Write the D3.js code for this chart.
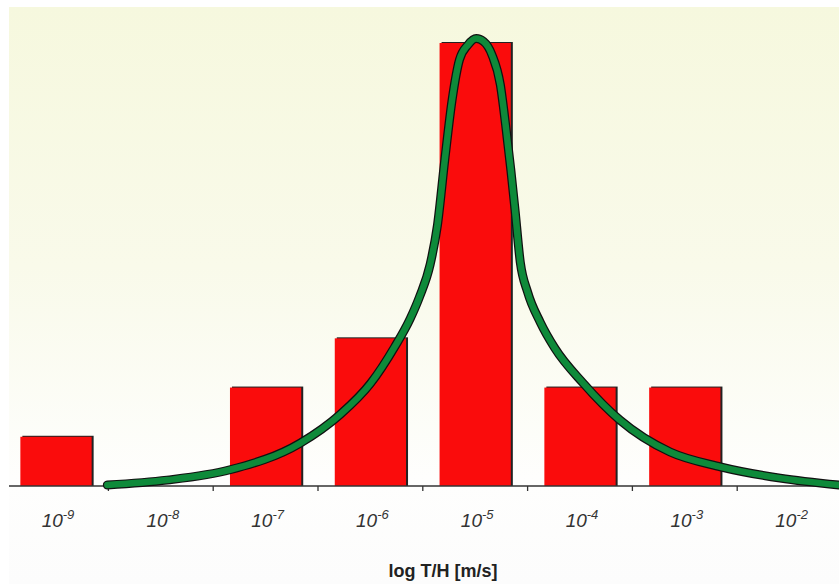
<!DOCTYPE html>
<html>
<head>
<script src="https://d3js.org/d3.v7.min.js"></script>
<style>
  body { margin: 0; background: #fff; }
</style>
</head>
<body>
<div id="chart"></div>
<script>
// categories = exponent of T/H (10^x m/s)
var exponents = ["-9", "-8", "-7", "-6", "-5", "-4", "-3", "-2"];
// bar heights (number of samples)
var counts = [1, 0, 2, 3, 9, 2, 2, 0];
// fitted curve: position on log axis and value
var fitLog = [-8.51, -7.94, -7.34, -6.67, -6.29, -6.00, -5.77, -5.62, -5.53, -5.43, -5.36, -5.29, -5.22, -5.15,
              -5.07, -4.99, -4.92, -4.84, -4.76, -4.71, -4.66, -4.62, -4.57, -4.50, -4.38, -4.24, -3.97,
              -3.62, -3.14, -2.66, -2.09, -1.53];
var fitVal = [0.02, 0.12, 0.33, 0.87, 1.45, 2.08, 2.82, 3.40, 3.85, 4.50, 5.30, 6.63, 7.85, 8.66,
              8.96, 9.09, 9.03, 8.76, 8.15, 7.34, 6.42, 5.61, 4.55, 3.94, 3.33, 2.80, 2.09,
              1.34, 0.69, 0.39, 0.16, 0.02];

var W = 839, H = 584, axisY = 486;

var svg = d3.select("#chart").append("svg")
    .attr("width", W).attr("height", H)
    .style("display", "block");

// background gradient panel
var grad = svg.append("defs").append("linearGradient")
    .attr("id", "bg").attr("x1", 0).attr("y1", 0).attr("x2", 0).attr("y2", 1);
grad.append("stop").attr("offset", "0%").attr("stop-color", "#f6f8de");
grad.append("stop").attr("offset", "45%").attr("stop-color", "#f9faea");
grad.append("stop").attr("offset", "82%").attr("stop-color", "#fefefd");
grad.append("stop").attr("offset", "100%").attr("stop-color", "#fcfcfc");

svg.append("rect")
    .attr("x", 9).attr("y", 7)
    .attr("width", W - 9).attr("height", H - 7)
    .attr("fill", "url(#bg)");

// scales
var x = d3.scaleBand()
    .domain(exponents)
    .range([3.6, 842])
    .paddingInner(0.32)
    .paddingOuter(0.16);

var y = d3.scaleLinear()
    .domain([0, 9])
    .range([axisY, 43]);

var half = x.bandwidth() / 2;
var xc = d3.scaleLinear()
    .domain([-9, -2])
    .range([x("-9") + half, x("-2") + half]);

// bars with a small drop shadow
var bars = svg.append("g");
var data = exponents.map(function(e, i) { return {key: e, value: counts[i]}; })
    .filter(function(d) { return d.value > 0; });

bars.selectAll(".shadow")
  .data(data)
  .enter().append("rect")
    .attr("class", "shadow")
    .attr("x", function(d) { return x(d.key) + 2; })
    .attr("y", function(d) { return y(d.value) - 1; })
    .attr("width", x.bandwidth())
    .attr("height", function(d) { return axisY - y(d.value) + 1; })
    .attr("fill", "#222");

bars.selectAll(".bar")
  .data(data)
  .enter().append("rect")
    .attr("class", "bar")
    .attr("x", function(d) { return x(d.key); })
    .attr("y", function(d) { return y(d.value); })
    .attr("width", x.bandwidth())
    .attr("height", function(d) { return axisY - y(d.value); })
    .attr("fill", "#fa0c0c");

// axis line and ticks between categories
svg.append("line")
    .attr("x1", 9).attr("x2", W)
    .attr("y1", axisY).attr("y2", axisY)
    .attr("stroke", "#333").attr("stroke-width", 1.5);

var step = x.step();
svg.append("g").selectAll("line")
  .data(exponents.slice(1))
  .enter().append("line")
    .attr("x1", function(d) { return x(d) - (step - x.bandwidth()) / 2; })
    .attr("x2", function(d) { return x(d) - (step - x.bandwidth()) / 2; })
    .attr("y1", axisY).attr("y2", axisY + 5)
    .attr("stroke", "#333").attr("stroke-width", 1.3);

// fitted curve
var pts = fitLog.map(function(l, i) { return [l, fitVal[i]]; });
var line = d3.line()
    .x(function(d) { return xc(d[0]); })
    .y(function(d) { return y(d[1]); })
    .curve(d3.curveMonotoneX);

svg.append("path")
    .attr("d", line(pts))
    .attr("fill", "none")
    .attr("stroke", "#111")
    .attr("stroke-width", 9)
    .attr("stroke-linecap", "round");

svg.append("path")
    .attr("d", line(pts))
    .attr("fill", "none")
    .attr("stroke", "#0e8a3a")
    .attr("stroke-width", 6.5)
    .attr("stroke-linecap", "round");

// tick labels 10^x
var labels = svg.append("g").selectAll("text")
  .data(exponents)
  .enter().append("text")
    .attr("x", function(d) { return x(d) + half + 2; })
    .attr("y", 527)
    .attr("text-anchor", "middle")
    .style("font-family", "'Liberation Sans', Arial, sans-serif")
    .style("font-style", "italic")
    .style("font-size", "19px")
    .attr("fill", "#333");

labels.append("tspan").text("10");
labels.append("tspan")
    .attr("dy", -8)
    .style("font-size", "13px")
    .text(function(d) { return d; });

// axis title
svg.append("text")
    .attr("x", 443)
    .attr("y", 577)
    .attr("text-anchor", "middle")
    .style("font-family", "'Liberation Sans', Arial, sans-serif")
    .style("font-weight", "bold")
    .style("font-size", "18px")
    .attr("fill", "#222")
    .text("log T/H [m/s]");
</script>
</body>
</html>
